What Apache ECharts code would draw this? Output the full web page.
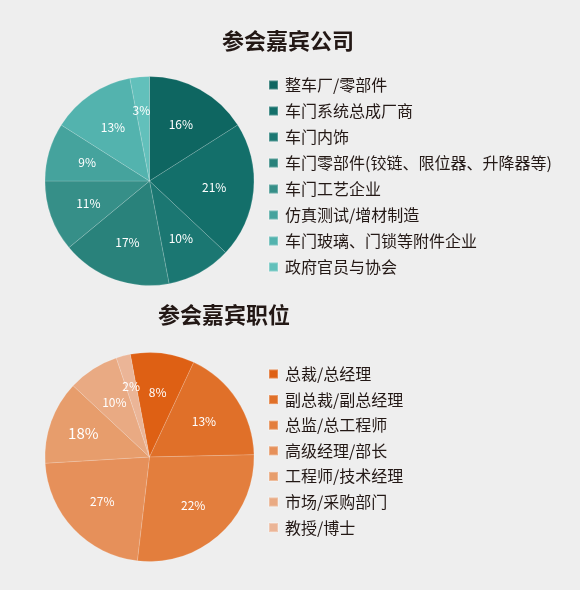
<!DOCTYPE html>
<html>
<head>
<meta charset="utf-8">
<script src="https://cdn.jsdelivr.net/npm/echarts@6/dist/echarts.min.js"></script>
<style>
  html, body { margin: 0; padding: 0; background: #eeeeee; }
  #chart { width: 580px; height: 590px; }
</style>
</head>
<body>
<div id="chart"></div>
<script>
// top pie: company types
const companyNames = ['整车厂/零部件', '车门系统总成厂商', '车门内饰', '车门零部件(铰链、限位器、升降器等)',
    '车门工艺企业', '仿真测试/增材制造', '车门玻璃、门锁等附件企业', '政府官员与协会'];
const companyShare = [16, 21, 10, 17, 11, 9, 13, 3];
const companyLabels = ['16%', '21%', '10%', '17%', '11%', '9%', '13%', '3%'];
const companyColors = ['#0e6661', '#136f6a', '#1b7772', '#29827b', '#368f88', '#45a39d', '#53b3ae', '#62c0bb'];

// bottom pie: job positions (slice sizes as drawn, labels as printed)
const positionNames = ['总裁/总经理', '副总裁/副总经理', '总监/总工程师', '高级经理/部长', '工程师/技术经理', '市场/采购部门', '教授/博士'];
const positionShare = [9.9, 17.7, 27.2, 22.2, 12.9, 7.9, 2.2];
const positionLabels = ['8%', '13%', '22%', '27%', '18%', '10%', '2%'];
const positionColors = ['#de6014', '#e07029', '#e37e3d', '#e6905a', '#e79d6c', '#e9aa83', '#ebb597'];

const FONT = '"Noto Sans CJK SC", "Noto Sans", sans-serif';
const INK = '#231815';

function toData(names, values, colors) {
    return names.map((name, i) => ({ name: name, value: values[i], itemStyle: { color: colors[i] } }));
}

function pieSeries(names, values, colors, center, startAngle) {
    return {
        type: 'pie',
        center: center,
        radius: [0, 104.5],
        startAngle: startAngle,
        clockwise: true,
        silent: true,
        animation: false,
        label: { show: false },
        labelLine: { show: false },
        itemStyle: { borderColor: 'rgba(255,255,255,0.25)', borderWidth: 0.6 },
        data: toData(names, values, colors)
    };
}

// transparent twin so the inside labels sit at ~0.6 of the radius
// tweaks: {index: {fontSize, offset}} for the odd label that sits a bit differently
function labelSeries(names, values, labels, center, startAngle, tweaks) {
    return {
        type: 'pie',
        center: center,
        radius: [0, 124],
        startAngle: startAngle,
        clockwise: true,
        silent: true,
        animation: false,
        minShowLabelAngle: 0,
        avoidLabelOverlap: false,
        labelLayout: { hideOverlap: false },
        itemStyle: { color: 'rgba(0,0,0,0)' },
        labelLine: { show: false },
        label: {
            show: true,
            position: 'inside',
            color: '#ffffff',
            fontFamily: FONT,
            fontSize: 12,
            formatter: function (p) { return labels[p.dataIndex]; }
        },
        data: names.map((name, i) => {
            let d = { name: name, value: values[i] };
            if (tweaks[i]) d.label = tweaks[i];
            return d;
        })
    };
}

function legendFor(names, top, gap) {
    return {
        data: names,
        orient: 'vertical',
        left: 268,
        top: top,
        padding: 0,
        icon: 'rect',
        itemWidth: 9,
        itemHeight: 9,
        itemGap: gap,
        selectedMode: false,
        textStyle: { fontFamily: FONT, fontSize: 16, lineHeight: 16, color: INK, padding: [0, 0, 0, 2] }
    };
}

const chart = echarts.init(document.getElementById('chart'));
chart.setOption({
    backgroundColor: '#eeeeee',
    animation: false,
    title: [
        { text: '参会嘉宾公司', left: 222, top: 30, padding: 0,
          textStyle: { fontFamily: FONT, fontSize: 22, fontWeight: 'bold', color: INK } },
        { text: '参会嘉宾职位', left: 158, top: 304, padding: 0,
          textStyle: { fontFamily: FONT, fontSize: 22, fontWeight: 'bold', color: INK } }
    ],
    legend: [
        legendFor(companyNames, 77, 10),
        legendFor(positionNames, 366, 9.6)
    ],
    series: [
        pieSeries(companyNames, companyShare, companyColors, [149.5, 181], 90),
        pieSeries(positionNames, positionShare, positionColors, [149.5, 457], 100.6),
        labelSeries(companyNames, companyShare, companyLabels, [149.5, 181], 90,
            { 7: { offset: [-2, -6] } }),
        labelSeries(positionNames, positionShare, positionLabels, [149.5, 457], 100.6,
            { 4: { fontSize: 15, offset: [-5, -2] }, 6: { offset: [-2, -8] } })
    ]
});
</script>
</body>
</html>
